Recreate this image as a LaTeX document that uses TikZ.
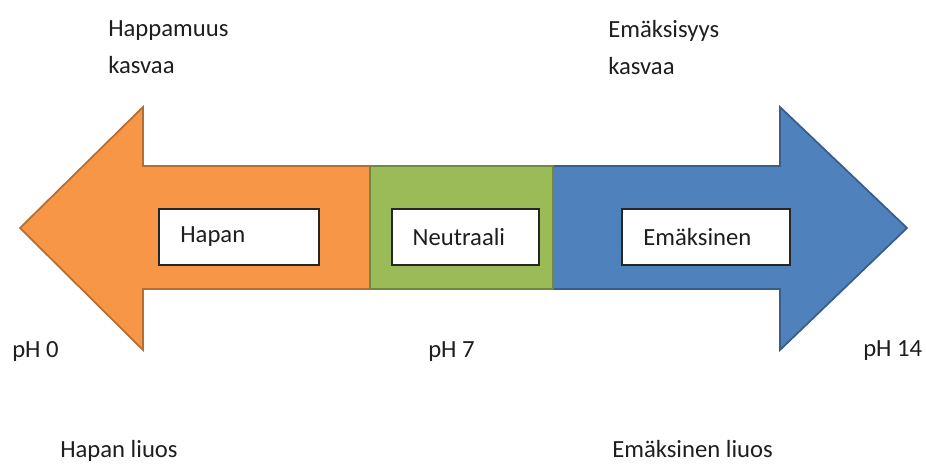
\documentclass[tikz,border=0pt]{standalone}
\usepackage{fontspec}
\setmainfont{Carlito}
\usepackage{xcolor}
\usepackage{tikz}
\usetikzlibrary{shapes,calc,positioning}

\definecolor{acidfill}{HTML}{F79646}
\definecolor{acidline}{HTML}{B66D31}
\definecolor{neutfill}{HTML}{9BBB59}
\definecolor{neutline}{HTML}{71893F}
\definecolor{basefill}{HTML}{4F81BD}
\definecolor{baseedge}{HTML}{385D8A}
\definecolor{txt}{HTML}{1E1E1E}

\tikzset{
  lbl/.style={inner sep=0pt, text=txt, font=\fontsize{18.5}{21}\selectfont},
  phbox/.style={draw=black!85, line width=1pt, fill=white, minimum height=56*0.75pt, inner xsep=16pt, align=left, text=txt, font=\fontsize{18.5}{21}\selectfont}
}

\begin{document}
\begin{tikzpicture}[x=0.75pt, y=-0.75pt]
\useasboundingbox (0,0) rectangle (926,470);

% arrows
\draw[fill=acidfill, draw=acidline, line width=1.3pt, line join=miter]
  (370,166) -- (143,166) -- (143,107) -- (20,228) -- (143,350) -- (143,289) -- (370,289) -- cycle;
\draw[fill=basefill, draw=baseedge, line width=1.3pt, line join=miter]
  (553,166) -- (780,166) -- (780,107) -- (907,228) -- (780,350) -- (780,289) -- (553,289) -- cycle;
\draw[fill=neutfill, draw=neutline, line width=1.3pt] (370,166) rectangle (553,289);

\node[phbox, text width=160*0.75pt-32pt](hapan) at (239,237) {Hapan};
\node[phbox, text width=147*0.75pt-31pt, inner xsep=15.5pt](neutraali) at (465.5,237) {Neutraali};
\node[phbox, text width=168*0.75pt-32pt](emaksinen) at (706,237) {Emäksinen};

\node[lbl, anchor=north west, align=left](happ) at (108,20) {Happamuus\\[7pt]kasvaa};
\node[lbl, anchor=north west, align=left](emak) at (608,20) {Emäksisyys\\[7pt]kasvaa};

\node[lbl, anchor=base west](ph0) at (12,358) {pH 0};
\node[lbl, anchor=base west](ph7) at (428,358) {pH 7};
\node[lbl, anchor=base west](ph14) at (863,357) {pH 14};

\node[lbl, anchor=base west](hliuos) at (60,458) {Hapan liuos};
\node[lbl, anchor=base west](eliuos) at (612,458) {Emäksinen liuos};
\end{tikzpicture}
\end{document}
